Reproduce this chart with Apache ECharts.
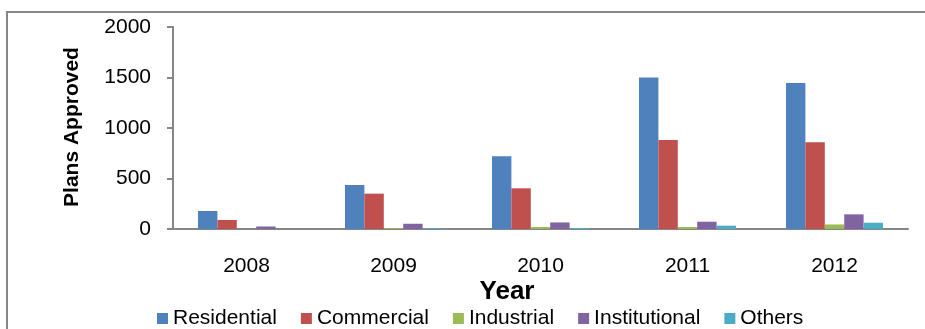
<!DOCTYPE html>
<html>
<head>
<meta charset="utf-8">
<script src="https://cdn.jsdelivr.net/npm/echarts@6/dist/echarts.min.js"></script>
<style>
html,body{margin:0;padding:0;background:#fff;}
#chart{width:925px;height:329px;}
</style>
</head>
<body>
<div id="chart"></div>
<script>
var years = ['2008', '2009', '2010', '2011', '2012'];
var residential = [178, 436, 720, 1500, 1445];
var commercial = [89, 350, 403, 880, 860];
var industrial = [0, 8, 20, 20, 45];
var institutional = [25, 52, 65, 72, 145];
var others = [0, 8, 10, 33, 62];
var seriesNames = ['Residential', 'Commercial', 'Industrial', 'Institutional', 'Others'];
var seriesColors = ['#4F81BD', '#C0504D', '#9BBB59', '#8064A2', '#4BACC6'];
var seriesData = [residential, commercial, industrial, institutional, others];

var font = '"Liberation Sans", Arial, sans-serif';
var chart = echarts.init(document.getElementById('chart'));
chart.setOption({
  animation: false,
  textStyle: {fontFamily: font},
  grid: {left: 173, right: 17, top: 27, bottom: 100},
  graphic: [
    {type: 'rect', shape: {x: 7, y: 12, width: 940, height: 340}, style: {fill: 'none', stroke: '#868686', lineWidth: 2}, silent: true},
    {type: 'text', x: 507, y: 292, style: {text: 'Year', font: 'bold 26px ' + font, fill: '#000', textAlign: 'center', textVerticalAlign: 'middle'}},
    {type: 'text', x: 72, y: 127, rotation: Math.PI / 2, style: {text: 'Plans Approved', font: 'bold 21px ' + font, fill: '#000', textAlign: 'center', textVerticalAlign: 'middle'}}
  ],
  legend: {
    left: 152, top: 303, itemWidth: 11, itemHeight: 11, itemGap: 24,
    icon: 'rect',
    textStyle: {fontSize: 21, color: '#000', fontFamily: font},
    data: seriesNames
  },
  xAxis: {
    type: 'category', data: years,
    axisLine: {lineStyle: {color: '#868686', width: 2}},
    axisTick: {show: false},
    axisLabel: {color: '#000', fontSize: 21, margin: 27, fontFamily: font}
  },
  yAxis: {
    type: 'value', min: 0, max: 2000, interval: 500,
    axisLine: {show: true, lineStyle: {color: '#868686', width: 2}},
    axisTick: {show: true, length: 6, lineStyle: {color: '#868686', width: 2}},
    splitLine: {show: false},
    axisLabel: {color: '#000', fontSize: 21, margin: 22, fontFamily: font, formatter: function (v) { return String(v); }}
  },
  series: seriesNames.map(function (n, i) {
    return {
      name: n, type: 'bar', data: seriesData[i],
      barGap: '0%', barCategoryGap: '34%',
      itemStyle: {color: seriesColors[i]}
    };
  })
});
</script>
</body>
</html>
